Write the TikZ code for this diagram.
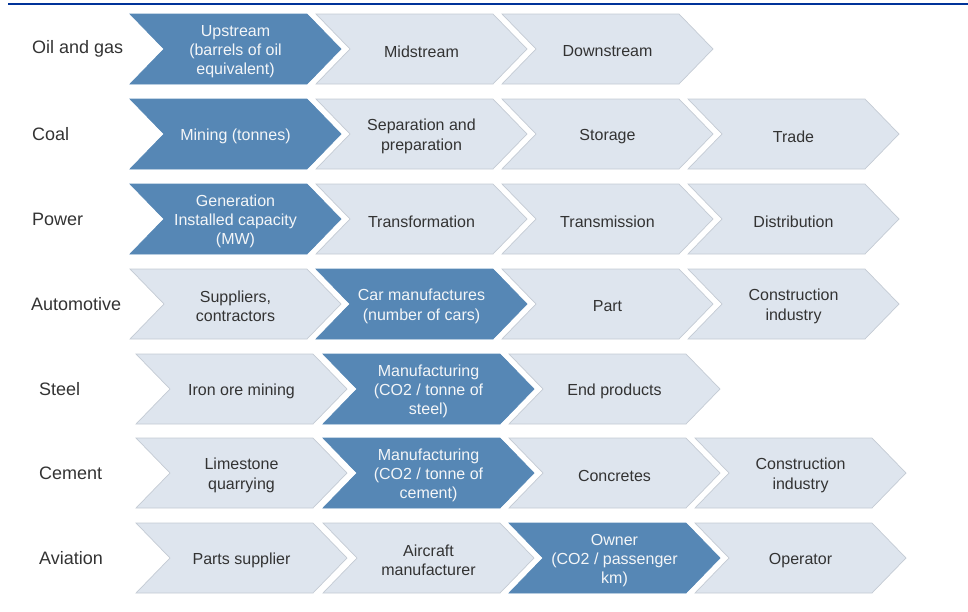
\documentclass[tikz,border=0pt]{standalone}
\usepackage{fontspec}
\setmainfont{Liberation Sans}
\definecolor{topline}{RGB}{0,51,153}
\definecolor{darkchev}{RGB}{86,135,181}
\definecolor{lightchev}{RGB}{222,229,238}
\definecolor{lightedge}{RGB}{196,203,212}
\definecolor{labeltext}{RGB}{51,51,51}
\definecolor{darktext}{RGB}{244,246,248}
\tikzset{
  lightbox/.style={fill=lightchev, draw=lightedge, line width=0.7pt},
  darkbox/.style={fill=darkchev, draw=darkchev, line width=0.7pt},
  lighttxt/.style={text=labeltext, align=center, font=\fontsize{16}{19.3}\selectfont},
  darktxt/.style={text=darktext, align=center, font=\fontsize{16}{19.3}\selectfont},
  rowlabel/.style={text=labeltext, anchor=west, inner sep=0pt, font=\fontsize{18}{21}\selectfont},
}
% name, x0, ytop, kind (light/dark), text
\newcommand\mychev[5]{%
  \path[#4box] (#2,#3) -- ({#2+177},#3) -- ({#2+211},{#3+35}) -- ({#2+177},{#3+70})
     -- (#2,{#3+70}) -- ({#2+34},{#3+35}) -- cycle;
  \node[#4txt] (#1) at ({#2+105.5},{#3+37.5}) {#5};
}
\begin{document}
\begin{tikzpicture}[x=1pt,y=-1pt]
\useasboundingbox (0,0) rectangle (968,611);
\coordinate (tlA) at (8,3.8);
\coordinate (tlB) at (968,3.8);
\draw[topline, line width=2pt] (tlA) -- (tlB);

% Row 1: Oil and gas
\node[rowlabel] (l1) at (32,49) {Oil and gas};
\mychev{a1}{130}{14}{dark}{Upstream\\(barrels of oil\\equivalent)}
\mychev{a2}{316}{14}{light}{Midstream}
\mychev{a3}{502}{14}{light}{Downstream}

% Row 2: Coal
\node[rowlabel] (l2) at (32,134) {Coal};
\mychev{b1}{130}{99}{dark}{Mining (tonnes)}
\mychev{b2}{316}{99}{light}{Separation and\\preparation}
\mychev{b3}{502}{99}{light}{Storage}
\mychev{b4}{688}{99}{light}{Trade}

% Row 3: Power
\node[rowlabel] (l3) at (32,219) {Power};
\mychev{c1}{130}{184}{dark}{Generation\\Installed capacity\\(MW)}
\mychev{c2}{316}{184}{light}{Transformation}
\mychev{c3}{502}{184}{light}{Transmission}
\mychev{c4}{688}{184}{light}{Distribution}

% Row 4: Automotive
\node[rowlabel] (l4) at (31,304) {Automotive};
\mychev{d1}{130}{269}{light}{Suppliers,\\contractors}
\mychev{d2}{316}{269}{dark}{Car manufactures\\(number of cars)}
\mychev{d3}{502}{269}{light}{Part}
\mychev{d4}{688}{269}{light}{Construction\\industry}

% Row 5: Steel
\node[rowlabel] (l5) at (39,389) {Steel};
\mychev{e1}{136}{354}{light}{Iron ore mining}
\mychev{e2}{323}{354}{dark}{Manufacturing\\(CO2 / tonne of\\steel)}
\mychev{e3}{509}{354}{light}{End products}

% Row 6: Cement
\node[rowlabel] (l6) at (39,473) {Cement};
\mychev{f1}{136}{438}{light}{Limestone\\quarrying}
\mychev{f2}{323}{438}{dark}{Manufacturing\\(CO2 / tonne of\\cement)}
\mychev{f3}{509}{438}{light}{Concretes}
\mychev{f4}{695}{438}{light}{Construction\\industry}

% Row 7: Aviation
\node[rowlabel] (l7) at (39,558) {Aviation};
\mychev{g1}{136}{523}{light}{Parts supplier}
\mychev{g2}{323}{523}{light}{Aircraft\\manufacturer}
\mychev{g3}{509}{523}{dark}{Owner\\(CO2 / passenger\\km)}
\mychev{g4}{695}{523}{light}{Operator}
\end{tikzpicture}
\end{document}
